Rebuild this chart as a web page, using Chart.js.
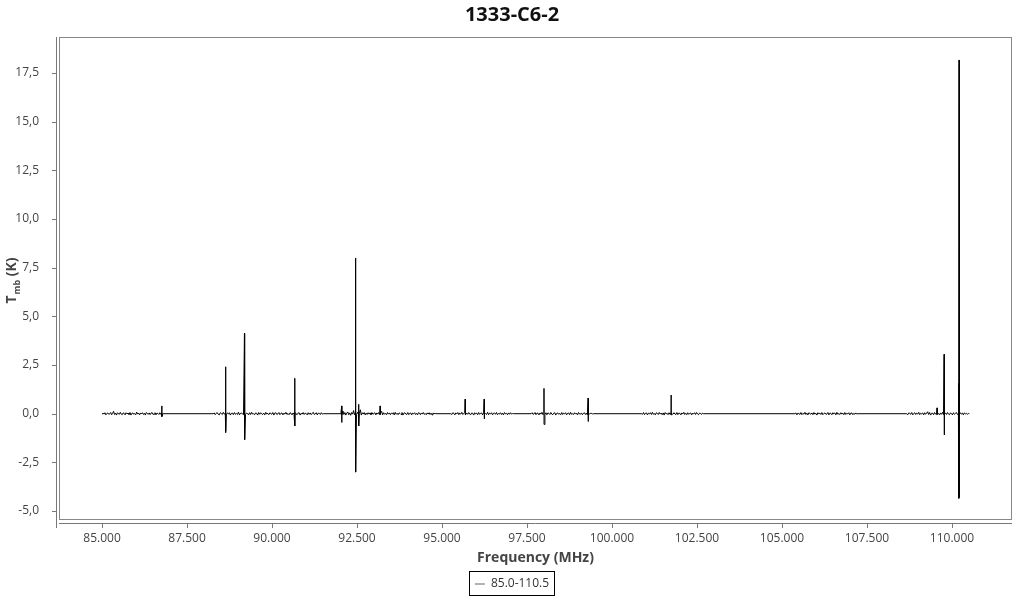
<!DOCTYPE html>
<html>
<head>
<meta charset="utf-8">
<script src="https://cdn.jsdelivr.net/npm/chart.js@4.4.0/dist/chart.umd.min.js"></script>
<style>
  html, body { margin: 0; padding: 0; background: #fff; }
  #wrap { width: 1024px; height: 600px; }
</style>
</head>
<body>
<div id="wrap"><canvas id="grafico"></canvas></div>
<script>
// segmentos do espectro (MHz)
const segStart = [85000, 88270, 92000, 95260, 97620, 100870, 105380, 108670];
const segEnd   = [86785, 91510, 94820, 97100, 99450, 102690, 107230, 110510];

// ruido de cada segmento (K)
const noise1 = [0,0.03,-0.02,0.05,-0.06,0.01,0.04,-0.03,-0.01,0.06,-0.05,0.02,0.12,-0.04,0.03,-0.07,0.05,0.00,-0.03,0.07,-0.02,-0.05,0.04,0.02,-0.06,0.05,-0.01,0.03,-0.04,0.06,-0.07,0.02,0.04,-0.03,0.01,-0.05,0.08,-0.02,0.03,-0.06,0.04,-0.01,0.05,-0.04,0.02,-0.07,0.06,0.01,-0.03,0.04,-0.05,0.03,0.06,-0.04,-0.02,0.05,-0.06,0.03,0.01,-0.04,0.05,-0.03,0.02,0];
const noise2 = [0,0.04,-0.05,0.02,0.06,-0.03,-0.06,0.05,0.01,-0.04,0.07,-0.02,0.03,-0.06,0.04,-0.01,0.05,-0.07,0.02,0.03,-0.05,0.06,-0.03,0.01,-0.04,0.08,-0.06,0.02,0.04,-0.02,-0.05,0.06,-0.03,0.03,0.01,-0.06,0.05,-0.04,0.07,-0.02,0.00,-0.05,0.04,0.02,-0.07,0.06,-0.03,0.05,-0.01,-0.04,0.03,-0.06,0.07,-0.02,0.02,-0.05,0.04,0.01,-0.03,0.06,-0.07,0.03,0.05,-0.04,-0.01,0.06,-0.05,0.02,0.04,-0.06,0.03,-0.02,0.07,-0.04,0.01,-0.05,0.05,0.02,-0.06,0.04,-0.03,0.06,-0.01,-0.05,0.03,0.05,-0.07,0.02,-0.02,0.06,-0.04,0.03,0.01,-0.06,0.05,-0.03,0.04,-0.05,0.02,0.07,-0.04,-0.01,0.05,-0.06,0.03,0.02,-0.04,0.05,-0.02,0];
const noise3 = [0,0.05,-0.06,0.14,-0.04,0.06,-0.07,0.03,0.09,-0.05,0.04,-0.08,0.06,-0.02,0.16,-0.06,0.04,-0.05,0.07,-0.03,0.02,0.20,-0.07,0.05,-0.02,0.06,-0.06,0.03,-0.04,0.05,-0.02,0.04,-0.05,0.06,-0.03,0.01,0.05,-0.06,0.04,-0.02,0.06,-0.05,0.03,0.12,-0.06,0.05,-0.03,0.02,-0.05,0.06,-0.02,0.04,-0.05,0.03,-0.01,0.05,-0.06,0.07,-0.03,0.02,-0.05,0.04,0.01,-0.04,0.06,-0.07,0.03,0.05,-0.02,-0.04,0.06,-0.05,0.02,0.04,-0.06,0.03,-0.01,0.05,-0.04,0.02,-0.06,0.05,0.03,-0.05,0.04,-0.02,0.06,-0.03,0.01,-0.05,0.04,-0.02,0.05,-0.04,0.03,-0.06,0.04,-0.01,0.02,0];
const noise4 = [0,-0.04,0.05,0.02,-0.06,0.04,-0.01,0.06,-0.05,0.03,-0.02,0.07,-0.04,0.01,0.05,-0.06,0.03,-0.03,0.06,-0.02,-0.05,0.04,0.02,-0.07,0.05,-0.01,0.03,-0.05,0.06,-0.03,0.02,0.04,-0.06,0.05,-0.02,0.01,-0.04,0.07,-0.05,0.03,-0.01,0.05,-0.06,0.02,0.04,-0.03,0.06,-0.05,0.01,-0.02,0.05,-0.04,0.03,-0.06,0.06,-0.01,0.02,-0.05,0.04,-0.03,0.05,-0.02,0.01,0];
const noise5 = [0,0.05,-0.03,-0.01,0.06,-0.05,0.03,0.02,-0.06,0.04,-0.02,0.07,-0.05,0.01,-0.03,0.05,-0.06,0.04,0.02,-0.04,0.06,-0.02,-0.05,0.03,0.05,-0.07,0.02,0.04,-0.03,0.01,-0.05,0.06,-0.04,0.03,-0.01,0.05,-0.06,0.02,0.04,-0.05,0.07,-0.03,0.00,-0.04,0.05,-0.02,0.03,-0.06,0.06,-0.01,-0.03,0.04,-0.05,0.02,0.05,-0.04,0.03,-0.06,0.04,-0.02,0.01,0.03,-0.02,0];
const noise6 = [0,-0.03,0.06,-0.05,0.02,0.04,-0.06,0.03,-0.01,0.05,-0.04,0.07,-0.03,0.01,-0.06,0.05,0.02,-0.04,0.06,-0.02,0.03,-0.05,0.04,-0.07,0.06,-0.01,0.02,-0.05,0.05,-0.03,0.04,-0.06,0.01,0.05,-0.02,-0.04,0.06,-0.05,0.03,0.02,-0.06,0.04,-0.01,0.07,-0.04,0.02,-0.05,0.05,-0.03,0.01,0.04,-0.06,0.03,-0.02,0.05,-0.04,0.06,-0.01,-0.05,0.03,0.02,-0.04,0.03,0];
const noise7 = [0,0.04,-0.06,0.03,0.01,-0.04,0.06,-0.05,0.02,-0.02,0.07,-0.04,0.03,-0.06,0.05,0.01,-0.03,0.04,-0.05,0.06,-0.02,0.02,-0.07,0.05,-0.01,0.03,-0.04,0.06,-0.05,0.01,0.04,-0.03,-0.02,0.06,-0.06,0.03,0.02,-0.05,0.05,-0.01,0.04,-0.06,0.07,-0.03,0.01,-0.04,0.05,-0.02,0.03,-0.05,0.06,-0.04,0.02,-0.01,0.05,-0.06,0.03,0.04,-0.05,0.02,-0.03,0.04,-0.02,0];
const noise8 = [0,-0.05,0.04,0.02,-0.03,0.06,-0.06,0.01,0.05,-0.04,0.03,-0.02,0.07,-0.05,0.02,-0.01,0.04,-0.06,0.05,-0.03,0.03,0.10,-0.04,0.06,-0.07,0.02,0.03,-0.05,0.06,-0.02,-0.04,0.05,0.01,-0.06,0.04,-0.03,0.07,-0.05,0.02,0.03,-0.04,0.06,-0.02,-0.05,0.04,0.01,-0.06,0.05,-0.03,0.02,0.06,-0.04,0.01,-0.05,0.05,-0.02,0.03,-0.06,0.04,-0.01,0.02,-0.03,0.01,0];
const segNoise = [noise1, noise2, noise3, noise4, noise5, noise6, noise7, noise8];

// linhas espectrais: frequencia, maximo, minimo
const spikeFreq = [86760, 88630, 88645, 89190, 89200, 90670, 92050, 92460, 92550, 93180, 95680, 96240, 98000, 99300, 101740, 109560, 109770, 110200, 110210];
const spikeMax  = [0.40, 2.41, 0.70, 4.13, 0.45, 1.82, 0.40, 8.00, 0.48, 0.40, 0.75, 0.75, 1.30, 0.80, 0.96, 0.30, 3.05, 1.56, 18.17];
const spikeMin  = [-0.15, -0.98, -0.90, -1.35, -1.30, -0.63, -0.45, -3.00, -0.63, -0.05, -0.05, -0.27, -0.55, -0.40, -0.05, -0.05, -1.09, -4.35, -4.30];

const xTicks = [85000, 87500, 90000, 92500, 95000, 97500, 100000, 102500, 105000, 107500, 110000];
const yTicks = [-5, -2.5, 0, 2.5, 5, 7.5, 10, 12.5, 15, 17.5];

const pontos = [];
segStart.forEach((ini, i) => {
    const ruido = segNoise[i];
    const passo = (segEnd[i] - ini) / (ruido.length - 1);
    ruido.forEach((v, k) => pontos.push({ x: ini + k * passo, y: v }));
});
spikeFreq.forEach((f, i) => {
    pontos.push({ x: f, y: spikeMax[i] });
    pontos.push({ x: f + 0.5, y: spikeMin[i] });
});
pontos.sort((a, b) => a.x - b.x);

Chart.defaults.font.family = "'Open Sans', sans-serif";
Chart.defaults.color = '#444';

const fmtX = new Intl.NumberFormat('de-DE');
const fmtY = new Intl.NumberFormat('de-DE', { minimumFractionDigits: 1, maximumFractionDigits: 1 });

// moldura, eixos deslocados, titulo do eixo y e caixa da legenda
const extras = {
    id: 'extras',
    afterDraw(chart) {
        const { ctx, chartArea: a } = chart;
        const sx = chart.scales.x, sy = chart.scales.y;
        ctx.save();
        ctx.lineWidth = 1;
        ctx.strokeStyle = '#888';
        ctx.strokeRect(a.left + 0.5, a.top + 0.5, a.right - a.left - 1, a.bottom - a.top - 1);

        ctx.strokeStyle = '#777';
        ctx.beginPath();
        ctx.moveTo(a.left - 2.5, a.top);
        ctx.lineTo(a.left - 2.5, a.bottom + 8);
        yTicks.forEach(t => {
            const p = Math.round(sy.getPixelForValue(t)) + 0.5;
            ctx.moveTo(a.left - 7, p);
            ctx.lineTo(a.left - 2.5, p);
        });
        ctx.moveTo(a.left, a.bottom + 3.5);
        ctx.lineTo(a.right, a.bottom + 3.5);
        xTicks.forEach(t => {
            const p = Math.round(sx.getPixelForValue(t)) + 0.5;
            ctx.moveTo(p, a.bottom + 3.5);
            ctx.lineTo(p, a.bottom + 8);
        });
        ctx.stroke();

        // T_mb (K)
        ctx.translate(16, 281);
        ctx.rotate(-Math.PI / 2);
        ctx.fillStyle = '#444';
        ctx.textBaseline = 'alphabetic';
        ctx.font = "bold 14px 'Open Sans'";
        const wT = ctx.measureText('T').width;
        ctx.font = "bold 9px 'Open Sans'";
        const wS = ctx.measureText('mb').width;
        ctx.font = "bold 14px 'Open Sans'";
        const wK = ctx.measureText(' (K)').width;
        const x0 = -(wT + wS + wK) / 2;
        ctx.fillText('T', x0, 0);
        ctx.font = "bold 9px 'Open Sans'";
        ctx.fillText('mb', x0 + wT + 1, 4);
        ctx.font = "bold 14px 'Open Sans'";
        ctx.fillText(' (K)', x0 + wT + wS + 1, 0);
        ctx.restore();

        const h = chart.legend.legendHitBoxes[0];
        if (h) {
            ctx.save();
            ctx.strokeStyle = '#000';
            ctx.lineWidth = 1;
            ctx.strokeRect(Math.round(h.left) - 5.5, Math.round(h.top) - 6.5, Math.round(h.width) + 11, Math.round(h.height) + 12);
            ctx.restore();
        }
    }
};

new Chart(document.getElementById('grafico'), {
    type: 'line',
    data: {
        datasets: [{
            label: '85.0-110.5',
            data: pontos,
            borderColor: '#000',
            borderWidth: 1,
            pointRadius: 0,
            tension: 0,
            fill: false
        }]
    },
    options: {
        responsive: true,
        maintainAspectRatio: false,
        animation: false,
        events: [],
        layout: { padding: { left: 12, right: 12, top: 0, bottom: 0 } },
        plugins: {
            title: {
                display: true,
                text: '1333-C6-2',
                color: '#111',
                font: { size: 20, weight: 'bold' },
                padding: { top: 3, bottom: 10 }
            },
            legend: {
                position: 'bottom',
                labels: {
                    color: '#333',
                    font: { size: 12 },
                    usePointStyle: true,
                    pointStyleWidth: 10,
                    boxHeight: 12,
                    padding: 1,
                    generateLabels: chart => chart.data.datasets.map((d, i) => ({
                        text: d.label,
                        pointStyle: 'line',
                        strokeStyle: '#666',
                        fillStyle: '#666',
                        lineWidth: 1,
                        datasetIndex: i,
                        fontColor: '#333'
                    }))
                }
            },
            tooltip: { enabled: false }
        },
        scales: {
            x: {
                type: 'linear',
                min: 83735,
                max: 111765,
                grid: { display: false },
                border: { display: false },
                afterBuildTicks: s => { s.ticks = xTicks.map(v => ({ value: v })); },
                afterFit: s => { s.height = 57; },
                ticks: {
                    padding: 3,
                    font: { size: 12 },
                    color: '#444',
                    maxRotation: 0,
                    callback: v => fmtX.format(v)
                },
                title: {
                    display: true,
                    text: 'Frequency (MHz)',
                    color: '#444',
                    font: { size: 14, weight: 'bold' },
                    padding: { top: 2, bottom: 11 }
                }
            },
            y: {
                type: 'linear',
                min: -5.46,
                max: 19.35,
                grid: { display: false },
                border: { display: false },
                afterBuildTicks: s => { s.ticks = yTicks.map(v => ({ value: v })); },
                afterFit: s => { s.width = 47; },
                ticks: {
                    padding: 12,
                    font: { size: 12 },
                    color: '#444',
                    callback: v => fmtY.format(v)
                }
            }
        }
    },
    plugins: [extras]
});
</script>
</body>
</html>
